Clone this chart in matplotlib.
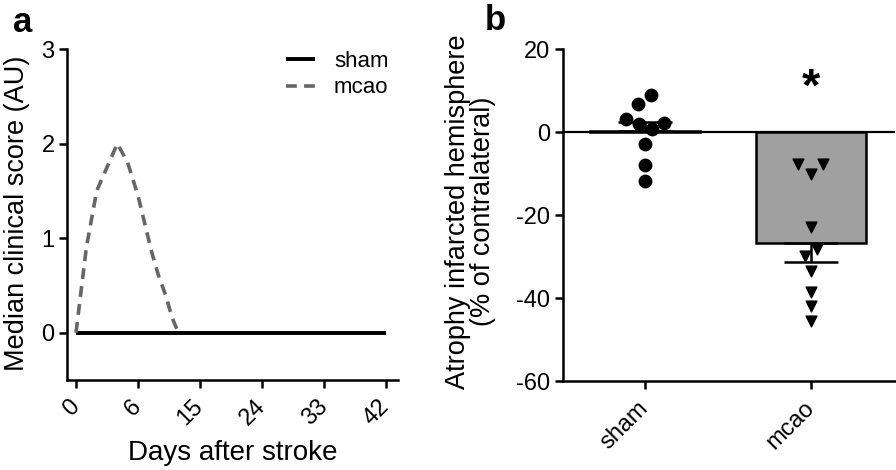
import matplotlib
matplotlib.use("Agg")
import matplotlib.pyplot as plt
import numpy as np

plt.rcParams['font.family'] = ['Liberation Sans', 'DejaVu Sans']
plt.rcParams['axes.unicode_minus'] = False

# panel a: median clinical score
tick_days = [0, 6, 15, 24, 33, 42]
sham_days = [0, 42]
sham_score = [0, 0]
mcao_days = [0, 1, 2, 3, 4, 5, 6, 7, 8, 9, 10, 11, 11.7]
mcao_score = [0, 0.9, 1.5, 1.75, 2.0, 1.8, 1.45, 1.15, 0.85, 0.6, 0.4, 0.15, 0.03]

# panel b: atrophy
groups = ['sham', 'mcao']
bar_mean = [0.3, -26.8]
bar_sem = [2.1, 4.5]
sham_vals = [9.0, 6.7, 3.2, 2.0, 0.8, 2.2, -2.8, -7.9, -11.9]
sham_jitter = [0.04, -0.04, -0.115, -0.036, 0.046, 0.116, 0, 0, 0]
mcao_vals = [-7.7, -7.7, -10.1, -22.9, -28.2, -29.8, -33.4, -38.6, -41.8, -45.5]
mcao_jitter = [-0.078, 0.072, 0, 0, 0.036, -0.036, 0, 0, 0, 0]

# the day axis is evenly spaced between ticks
knots_d = [-6] + tick_days + [51]
knots_p = list(range(-1, len(tick_days) + 1))


def fwd(x):
    return np.interp(x, knots_d, knots_p)


def inv(p):
    return np.interp(p, knots_p, knots_d)


fig = plt.figure(figsize=(8.96, 4.7), dpi=100)
ax1 = fig.add_axes([0.0748, 0.1915, 0.369, 0.704])
ax2 = fig.add_axes([0.628, 0.189, 0.371, 0.7067])

lw_ax = 1.8
for ax in (ax1, ax2):
    for s in ['top', 'right']:
        ax.spines[s].set_visible(False)
    for s in ['left', 'bottom']:
        ax.spines[s].set_linewidth(lw_ax)
    ax.tick_params(width=lw_ax, length=6, labelsize=17, direction='out', pad=3)
    ax.tick_params(axis='x', pad=11)

ax1.set_xscale('function', functions=(fwd, inv))
ax1.plot(sham_days, sham_score, color='black', lw=2.8, label='sham', solid_capstyle='butt')
ax1.plot(mcao_days, mcao_score, color='#666666', lw=2.6, dashes=(3, 2), label='mcao')
ax1.set_xlim(-0.87, 43.7)
ax1.set_ylim(-0.5, 3)
ax1.set_xticks(tick_days)
ax1.set_xticklabels([str(d) for d in tick_days], rotation=45, ha='right',
                    va='center', rotation_mode='anchor')
ax1.xaxis.set_minor_locator(matplotlib.ticker.NullLocator())
ax1.set_yticks([0, 1, 2, 3])
ax1.set_xlabel('Days after stroke', fontsize=20, labelpad=7)
ax1.set_ylabel('Median clinical score (AU)', fontsize=19.5)
ax1.yaxis.set_label_coords(-0.113, 0.503)
ax1.legend(frameon=False, loc='upper right', bbox_to_anchor=(0.972, 0.995),
           borderaxespad=0, borderpad=0, fontsize=16, handlelength=1.3,
           handletextpad=0.85, labelspacing=0.25)

x = np.arange(len(groups))
ax2.bar(x, bar_mean, width=0.66, color=['white', '#a0a0a0'], edgecolor='black', linewidth=1.8, zorder=2)
ax2.errorbar([x[0]], [bar_mean[0]], yerr=[[0], [bar_sem[0]]], fmt='none',
             ecolor='black', elinewidth=1.8, capsize=19.5, capthick=1.8, zorder=3)
ax2.errorbar([x[1]], [bar_mean[1]], yerr=[[bar_sem[1]], [0]], fmt='none',
             ecolor='black', elinewidth=1.8, capsize=19.5, capthick=1.8, zorder=3)
ax2.axhline(0, color='black', lw=1.6, zorder=2.5)
ax2.scatter(x[0] + np.array(sham_jitter), sham_vals, s=80, marker='o', color='black', zorder=4)
ax2.scatter(x[1] + np.array(mcao_jitter), mcao_vals, s=60, marker='v', color='black', zorder=4)
ax2.text(x[1], 10.5, '*', ha='center', va='center', fontsize=34, fontweight='bold')
ax2.set_xlim(-0.494, 1.506)
ax2.set_ylim(-60, 20)
ax2.set_yticks([20, 0, -20, -40, -60])
ax2.set_xticks(x)
ax2.set_xticklabels(groups, rotation=45, ha='right', va='center', rotation_mode='anchor')
ax2.set_ylabel('Atrophy infarcted hemisphere\n(% of contralateral)', fontsize=19.5,
               linespacing=0.95)
ax2.yaxis.set_label_coords(-0.2, 0.51)

fig.text(0.014, 0.932, 'a', fontsize=25, fontweight='bold', va='baseline')
fig.text(0.541, 0.936, 'b', fontsize=25, fontweight='bold', va='baseline')

fig.savefig('out.png', dpi=100)
